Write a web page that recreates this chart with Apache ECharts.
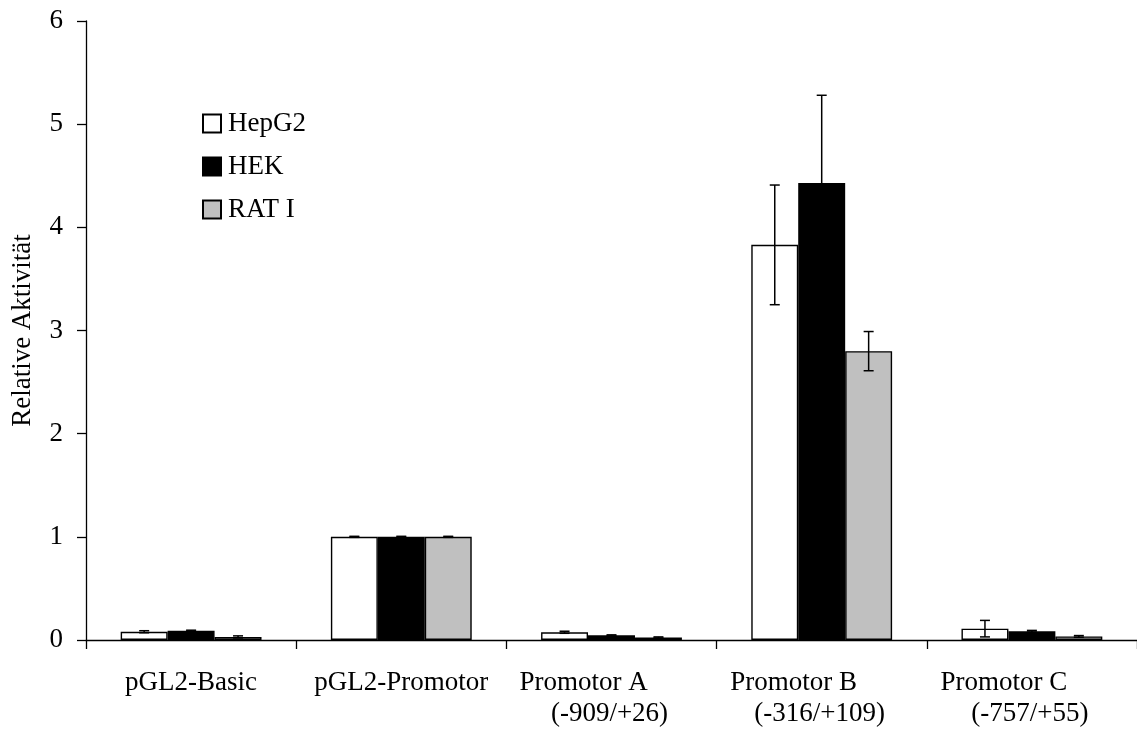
<!DOCTYPE html>
<html>
<head>
<meta charset="utf-8">
<title>Relative Aktivität</title>
<script src="https://cdn.jsdelivr.net/npm/echarts@6/dist/echarts.min.js"></script>
<style>
  html, body { margin: 0; padding: 0; background: #fff; }
  #chart { width: 1137px; height: 729px; }
</style>
</head>
<body>
<div id="chart"></div>
<script>
// Constructs along the x axis
const categories = ['pGL2-Basic', 'pGL2-Promotor', 'Promotor A', 'Promotor B', 'Promotor C'];
// Second label line (fragment position) for the promoter constructs
const subLabels = ['', '', '(-909/+26)', '(-316/+109)', '(-757/+55)'];

// Cell lines
const seriesNames = ['HepG2', 'HEK', 'RAT I'];

// Mean relative activity per construct
const hepg2 = [0.08, 1.0, 0.075, 3.83, 0.11];
const hek   = [0.09, 1.0, 0.045, 4.43, 0.085];
const rat1  = [0.03, 1.0, 0.025, 2.80, 0.035];

// Standard deviation per construct
const hepg2Err = [0.01, 0.005, 0.01, 0.58, 0.08];
const hekErr   = [0.005, 0.005, 0.005, 0.85, 0.008];
const rat1Err  = [0.01, 0.005, 0.005, 0.19, 0.008];

const yTicks = [0, 1, 2, 3, 4, 5, 6];

const means = [hepg2, hek, rat1];
const errs = [hepg2Err, hekErr, rat1Err];
const fills = ['#ffffff', '#000000', '#c0c0c0'];
const CAT_GAP = 0.33;
const FONT = '"Liberation Serif", "Times New Roman", serif';
const FS = 27;

const chart = echarts.init(document.getElementById('chart'), null, { renderer: 'canvas' });

const barSeries = seriesNames.map((name, i) => ({
  name: name,
  type: 'bar',
  data: means[i],
  barGap: '0%',
  barCategoryGap: (CAT_GAP * 100) + '%',
  itemStyle: { color: fills[i], borderColor: '#000', borderWidth: 1.4 },
  emphasis: { disabled: true },
  z: 2
}));

// Error bar rows: [category index, lower, upper, series index]
const errData = [];
means.forEach((vals, s) => {
  vals.forEach((v, c) => {
    errData.push([c, v - errs[s][c], v + errs[s][c], s]);
  });
});

const errorSeries = {
  type: 'custom',
  name: 'err',
  data: errData,
  z: 5,
  silent: true,
  encode: { x: 0, y: [1, 2] },
  renderItem: function (params, api) {
    const c = api.value(0);
    const lo = api.value(1);
    const hi = api.value(2);
    const s = api.value(3);
    const band = api.size([1, 0])[0];
    const bw = band * (1 - CAT_GAP) / seriesNames.length;
    const center = api.coord([c, 0])[0];
    const x = center - bw * seriesNames.length / 2 + (s + 0.5) * bw;
    const yLo = api.coord([c, lo])[1];
    const yHi = api.coord([c, hi])[1];
    const half = 5;
    const style = { stroke: '#000', lineWidth: 1.5 };
    return {
      type: 'group',
      children: [
        { type: 'line', shape: { x1: x, y1: yLo, x2: x, y2: yHi }, style: style },
        { type: 'line', shape: { x1: x - half, y1: yHi, x2: x + half, y2: yHi }, style: style },
        { type: 'line', shape: { x1: x - half, y1: yLo, x2: x + half, y2: yLo }, style: style }
      ]
    };
  }
};

const option = {
  animation: false,
  backgroundColor: '#ffffff',
  textStyle: { fontFamily: FONT, color: '#000' },
  grid: { left: 86, right: -7, top: 21, bottom: 89, containLabel: false },
  legend: {
    data: seriesNames,
    orient: 'vertical',
    left: 197,
    top: 105,
    padding: 5,
    icon: 'rect',
    itemWidth: 18,
    itemHeight: 18,
    itemGap: 16,
    selectedMode: false,
    textStyle: { fontFamily: FONT, fontSize: FS, color: '#000', lineHeight: 27, padding: [0, 0, 0, 2] }
  },
  xAxis: {
    type: 'category',
    data: categories,
    axisLine: { show: true, lineStyle: { color: '#000', width: 1.3 } },
    axisTick: { show: true, inside: false, length: 9, lineStyle: { color: '#000', width: 1.3 } },
    splitLine: { show: false },
    axisLabel: {
      interval: 0,
      margin: 27,
      color: '#000',
      fontFamily: FONT,
      fontSize: FS,
      formatter: function (value, idx) {
        const sub = subLabels[idx];
        return sub ? '{a|' + value + '}\n{b|' + sub + '}' : '{s|' + value + '}';
      },
      rich: {
        s: { fontFamily: FONT, fontSize: FS, lineHeight: 31, align: 'center' },
        a: { fontFamily: FONT, fontSize: FS, lineHeight: 31, align: 'center', padding: [0, 56, 0, 0] },
        b: { fontFamily: FONT, fontSize: FS, lineHeight: 31, align: 'center', padding: [0, 4, 0, 0] }
      }
    }
  },
  yAxis: {
    type: 'value',
    min: yTicks[0],
    max: yTicks[yTicks.length - 1],
    interval: 1,
    name: 'Relative Aktivität',
    nameLocation: 'middle',
    nameRotate: 90,
    nameGap: 50,
    nameTextStyle: { fontFamily: FONT, fontSize: FS, color: '#000' },
    axisLine: { show: true, lineStyle: { color: '#000', width: 1.3 } },
    axisTick: { show: true, inside: false, length: 9, lineStyle: { color: '#000', width: 1.3 } },
    splitLine: { show: false },
    axisLabel: { margin: 23, color: '#000', fontFamily: FONT, fontSize: FS }
  },
  series: barSeries.concat([errorSeries])
};

chart.setOption(option);
</script>
</body>
</html>
